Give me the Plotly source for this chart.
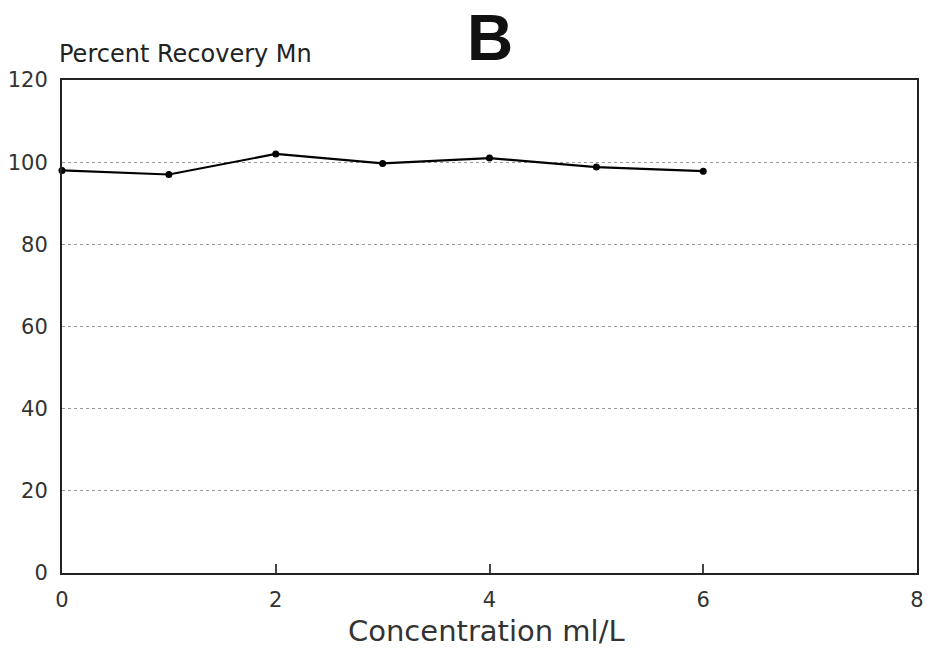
import plotly.graph_objects as go

concentration = [0, 1, 2, 3, 4, 5, 6]
recovery_mn = [98.0, 97.0, 102.0, 99.7, 101.0, 98.8, 97.8]
x_ticks = [0, 2, 4, 6, 8]
y_ticks = [0, 20, 40, 60, 80, 100, 120]

fig = go.Figure()
fig.add_trace(go.Scatter(
    x=concentration, y=recovery_mn, mode="lines+markers",
    line=dict(color="black", width=2.2),
    marker=dict(color="black", size=7),
    showlegend=False, cliponaxis=False,
))

font_family = "DejaVu Sans, Liberation Sans, sans-serif"
fig.update_layout(
    width=927, height=657,
    margin=dict(l=62, r=10, t=80, b=84, autoexpand=False),
    paper_bgcolor="white", plot_bgcolor="white",
    font=dict(family=font_family, color="#222"),
    xaxis=dict(
        range=[0, 8], tickvals=x_ticks,
        showgrid=False, zeroline=False, automargin=False,
        showline=True, linecolor="#222", linewidth=2, mirror=True,
        ticks="inside", ticklen=9, tickcolor="#444", tickwidth=1.5,
        ticklabelstandoff=7,
        tickfont=dict(size=21, color="#333"),
    ),
    yaxis=dict(
        range=[0, 120], tickvals=y_ticks,
        showgrid=True, gridcolor="#999", griddash="dot", gridwidth=1,
        zeroline=False, automargin=False,
        showline=True, linecolor="#222", linewidth=2, mirror=True,
        ticks="", ticklabelstandoff=8,
        tickfont=dict(size=21, color="#333"),
    ),
    annotations=[
        dict(text="Percent Recovery Mn", xref="paper", yref="paper",
             x=-0.006, y=1.0, yshift=10, xanchor="left", yanchor="bottom",
             showarrow=False, font=dict(size=24, color="#222")),
        dict(text="<b>B</b>", xref="paper", yref="paper",
             x=0.5, y=1.0, yshift=4, xanchor="center", yanchor="bottom",
             showarrow=False, font=dict(family="Liberation Sans, sans-serif", size=64, color="#111")),
        dict(text="Concentration ml/L", xref="paper", yref="paper",
             x=0.496, y=0.0, yshift=-58, xanchor="center", yanchor="middle",
             showarrow=False, font=dict(size=29, color="#333")),
    ],
)

fig.write_html(
    "out.html",
    config={"displayModeBar": False},
    post_script="document.body.style.margin='0';document.body.style.overflow='hidden';",
)
